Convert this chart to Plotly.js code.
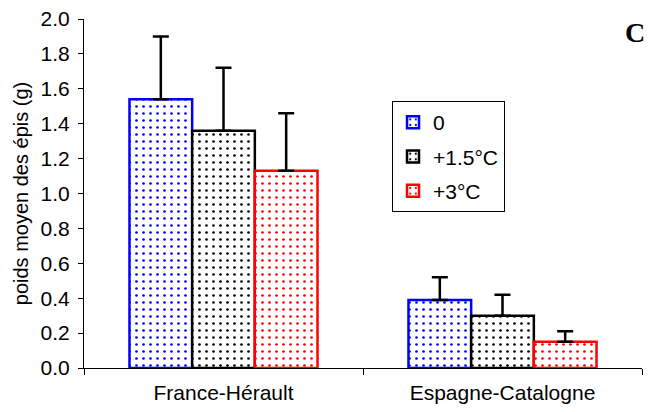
<!DOCTYPE html>
<html><head><meta charset="utf-8">
<script src="https://cdn.plot.ly/plotly-3.0.1.min.js"></script>
<style>body{margin:0;background:#fff}#c{width:650px;height:412px}</style>
</head><body><div id="c"></div>
<script>
const categories = ["France-Hérault", "Espagne-Catalogne"];
const seriesNames = ["0", "+1.5°C", "+3°C"];
const means = [[1.54, 0.39], [1.36, 0.30], [1.13, 0.15]];
const errUp = [[0.36, 0.13], [0.36, 0.12], [0.33, 0.06]];
const colors = ["#0000ff", "#000000", "#ff0000"];

const traces = seriesNames.map((n, i) => ({
  type: "bar", name: n, x: categories, y: means[i],
  legendgroup: "g" + i,
  marker: {color: "#ffffff", line: {color: colors[i], width: 2.5},
           pattern: {shape: ".", fgcolor: colors[i], bgcolor: "#ffffff", size: 7, solidity: 0.12}},
  error_y: {type: "data", symmetric: false, array: errUp[i], arrayminus: [0, 0],
            color: "#000", thickness: 2.5, width: 8}
}));

const layout = {
  width: 650, height: 412,
  margin: {l: 84, r: 8, t: 19, b: 44},
  paper_bgcolor: "#fff", plot_bgcolor: "#fff",
  font: {family: "Liberation Sans, Arial, sans-serif", color: "#000", size: 21},
  barmode: "group", bargap: 0.326, bargroupgap: 0,
  showlegend: true,
  legend: {x: 0.552, y: 0.765, xanchor: "left", yanchor: "top",
           bordercolor: "#000", borderwidth: 1, bgcolor: "#fff",
           font: {size: 21}, tracegroupgap: 4, traceorder: "grouped"},
  xaxis: {type: "category", showline: true, linecolor: "#000", linewidth: 1,
          ticks: "outside", tickson: "boundaries", ticklen: 6, tickcolor: "#000",
          tickfont: {size: 21}, ticklabelstandoff: 6, showgrid: false, zeroline: false},
  yaxis: {range: [0, 2.0], dtick: 0.2, tickformat: ".1f", showline: true,
          linecolor: "#000", linewidth: 1, ticks: "outside", ticklen: 5, tickcolor: "#000",
          showgrid: false, zeroline: false, tickfont: {size: 21}, ticklabelstandoff: 4,
          title: {text: "poids moyen des épis (g)", font: {size: 20}, standoff: 6}},
  annotations: [{text: "<b>C</b>", xref: "paper", yref: "paper", x: 1.0, y: 0.96,
                 xanchor: "right", yanchor: "middle", xshift: 5, showarrow: false,
                 font: {family: "Liberation Serif, Times New Roman, serif", size: 28, color: "#000"}}]
};
Plotly.newPlot("c", traces, layout, {displayModeBar: false, staticPlot: true});
</script></body></html>
